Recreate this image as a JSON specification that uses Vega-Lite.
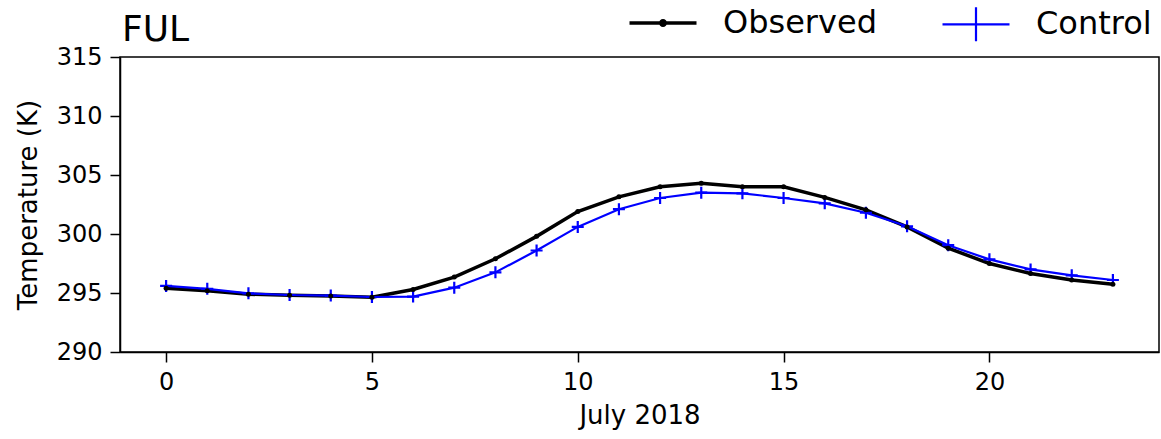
{
  "$schema": "https://vega.github.io/schema/vega-lite/v6.json",
  "width": 1039,
  "height": 295,
  "autosize": {"type": "none"},
  "padding": {"left": 120, "top": 57, "right": 2, "bottom": 87},
  "background": "white",
  "title": {"text": "FUL", "anchor": "start", "frame": "group", "fontSize": 36, "font": "DejaVu Sans", "fontWeight": "normal", "color": "black", "baseline": "alphabetic", "offset": -70, "dx": 2},
  "config": {
    "view": {"stroke": "black", "strokeWidth": 1.5},
    "axis": {"grid": false, "domainColor": "black", "tickColor": "black", "labelColor": "black", "titleColor": "black", "labelFont": "DejaVu Sans", "titleFont": "DejaVu Sans", "labelFontSize": 24, "titleFontSize": 26, "titleFontWeight": "normal", "tickSize": 10, "labelPadding": 8, "domainWidth": 1.5, "tickWidth": 1.5}
  },
  "data": {"values": [
    {"day": 0, "series": "Observed", "temp": 295.4},
    {"day": 1, "series": "Observed", "temp": 295.2},
    {"day": 2, "series": "Observed", "temp": 294.9},
    {"day": 3, "series": "Observed", "temp": 294.8},
    {"day": 4, "series": "Observed", "temp": 294.75},
    {"day": 5, "series": "Observed", "temp": 294.65},
    {"day": 6, "series": "Observed", "temp": 295.3},
    {"day": 7, "series": "Observed", "temp": 296.35},
    {"day": 8, "series": "Observed", "temp": 297.9},
    {"day": 9, "series": "Observed", "temp": 299.8},
    {"day": 10, "series": "Observed", "temp": 301.9},
    {"day": 11, "series": "Observed", "temp": 303.15},
    {"day": 12, "series": "Observed", "temp": 304.0},
    {"day": 13, "series": "Observed", "temp": 304.3},
    {"day": 14, "series": "Observed", "temp": 304.0},
    {"day": 15, "series": "Observed", "temp": 304.0},
    {"day": 16, "series": "Observed", "temp": 303.1},
    {"day": 17, "series": "Observed", "temp": 302.05},
    {"day": 18, "series": "Observed", "temp": 300.6},
    {"day": 19, "series": "Observed", "temp": 298.8},
    {"day": 20, "series": "Observed", "temp": 297.5},
    {"day": 21, "series": "Observed", "temp": 296.65},
    {"day": 22, "series": "Observed", "temp": 296.1},
    {"day": 23, "series": "Observed", "temp": 295.75},
    {"day": 0, "series": "Control", "temp": 295.6},
    {"day": 1, "series": "Control", "temp": 295.35},
    {"day": 2, "series": "Control", "temp": 294.97},
    {"day": 3, "series": "Control", "temp": 294.83},
    {"day": 4, "series": "Control", "temp": 294.78},
    {"day": 5, "series": "Control", "temp": 294.66},
    {"day": 6, "series": "Control", "temp": 294.7},
    {"day": 7, "series": "Control", "temp": 295.45},
    {"day": 8, "series": "Control", "temp": 296.75},
    {"day": 9, "series": "Control", "temp": 298.6},
    {"day": 10, "series": "Control", "temp": 300.6},
    {"day": 11, "series": "Control", "temp": 302.1},
    {"day": 12, "series": "Control", "temp": 303.05},
    {"day": 13, "series": "Control", "temp": 303.5},
    {"day": 14, "series": "Control", "temp": 303.45},
    {"day": 15, "series": "Control", "temp": 303.05},
    {"day": 16, "series": "Control", "temp": 302.6},
    {"day": 17, "series": "Control", "temp": 301.8},
    {"day": 18, "series": "Control", "temp": 300.65},
    {"day": 19, "series": "Control", "temp": 299.05},
    {"day": 20, "series": "Control", "temp": 297.85},
    {"day": 21, "series": "Control", "temp": 297.0},
    {"day": 22, "series": "Control", "temp": 296.5},
    {"day": 23, "series": "Control", "temp": 296.1}
  ]},
  "encoding": {
    "x": {"field": "day", "type": "quantitative", "scale": {"domain": [-1.12, 24.12], "nice": false, "zero": false}, "axis": {"values": [0, 5, 10, 15, 20], "title": "July 2018", "format": "d", "titlePadding": 8}},
    "y": {"field": "temp", "type": "quantitative", "scale": {"domain": [290, 315], "nice": false, "zero": false}, "axis": {"values": [290, 295, 300, 305, 310, 315], "title": "Temperature (K)", "titlePadding": 15}}
  },
  "layer": [
    {"mark": {"type": "line"}, "encoding": {
      "color": {"field": "series", "type": "nominal", "scale": {"domain": ["Observed", "Control"], "range": ["black", "#0000ff"]},
        "legend": {"title": null, "orient": "none", "direction": "horizontal", "legendX": 527, "legendY": -50, "symbolType": "M-3.35,0H3.35M0,-1.7V1.7", "symbolSize": 400, "symbolStrokeWidth": 3, "symbolOpacity": 1, "labelFont": "DejaVu Sans", "labelFontSize": 32, "labelColor": "black", "labelOffset": 44, "labelLimit": 400, "columnPadding": 61, "padding": 0,
          "encode": {"symbols": {"update": {
            "shape": {"signal": "datum.value === 'Observed' ? 'M-3.35,0H3.35M-0.23,0A0.23,0.23,0,1,0,0.23,0A0.23,0.23,0,1,0,-0.23,0M0,-1.7M0,1.7' : 'M-3.35,0H3.35M0,-1.7V1.7'"},
            "fill": {"signal": "datum.value === 'Observed' ? 'black' : 'transparent'"},
            "strokeWidth": {"signal": "datum.value === 'Observed' ? 4 : 2.2"}}}}}},
      "strokeWidth": {"field": "series", "type": "nominal", "scale": {"domain": ["Observed", "Control"], "range": [3.5, 2.2]}, "legend": null}}},
    {"transform": [{"filter": "datum.series === 'Control'"}], "mark": {"type": "point", "shape": "M-1,0H1M0,-1V1", "filled": false, "size": 144, "strokeWidth": 2.2, "opacity": 1, "color": "#0000ff"}},
    {"transform": [{"filter": "datum.series === 'Observed'"}], "mark": {"type": "circle", "size": 25, "opacity": 1, "color": "black"}}
  ]
}
